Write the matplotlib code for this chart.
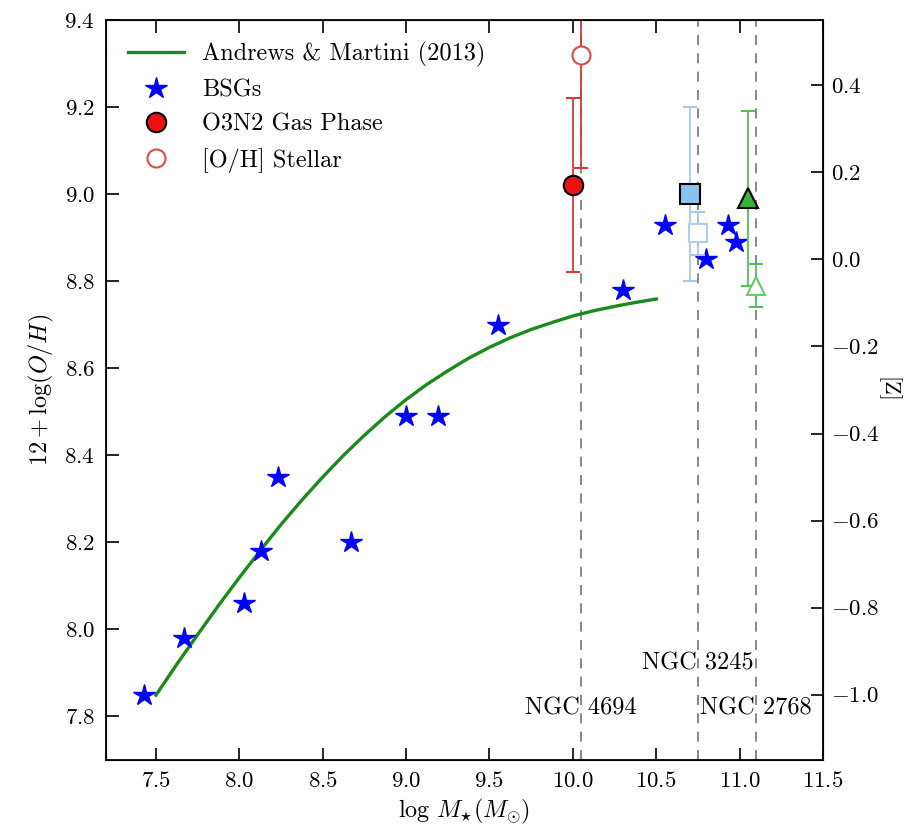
import numpy as np
import matplotlib
matplotlib.use('Agg')
import matplotlib.pyplot as plt

plt.rcParams['font.family'] = ['cmr10', 'DejaVu Serif']
plt.rcParams['mathtext.fontset'] = 'cm'
plt.rcParams['axes.formatter.use_mathtext'] = True
plt.rcParams['axes.unicode_minus'] = True

# BSG metallicities
bsg_mass = [7.43, 7.67, 8.03, 8.13, 8.23, 8.67, 9.00, 9.19, 9.55,
            10.30, 10.55, 10.80, 10.93, 10.98]
bsg_oh = [7.85, 7.98, 8.06, 8.18, 8.35, 8.20, 8.49, 8.49, 8.70,
          8.78, 8.93, 8.85, 8.93, 8.89]

# Andrews & Martini (2013) relation
am_mass = [7.5, 7.625, 7.75, 7.875, 8.0, 8.125, 8.25, 8.375, 8.5, 8.625,
           8.75, 8.875, 9.0, 9.125, 9.25, 9.375, 9.5, 9.625, 9.75, 9.875,
           10.0, 10.125, 10.25, 10.375, 10.5]
am_oh = [7.849, 7.920, 7.988, 8.055, 8.119, 8.181, 8.241, 8.297, 8.350, 8.400,
         8.446, 8.489, 8.528, 8.563, 8.594, 8.623, 8.648, 8.670, 8.689, 8.705,
         8.720, 8.732, 8.742, 8.751, 8.759]

# galaxies: gas phase (filled) and stellar (open)
gal_names = ['NGC 4694', 'NGC 3245', 'NGC 2768']
gal_mass = [10.05, 10.75, 11.1]
gas_mass = [10.0, 10.7, 11.05]
gas_oh = [9.02, 9.00, 8.99]
gas_err = [0.2, 0.2, 0.2]
star_oh = [9.32, 8.91, 8.79]
star_err = [0.26, 0.05, 0.05]

markers = ['o', 's', '^']
face_cols = ['#ee1111', '#88c4ee', '#33b833']
bar_cols = ['#d83838', '#a8c8e8', '#55c055']
open_cols = ['#e04848', '#b0ccf0', '#66cc66']
label_y = [7.818, 7.922, 7.818]

fig = plt.figure(figsize=(9.19, 8.25), dpi=100)
ax = fig.add_axes([0.1153, 0.0788, 0.7802, 0.897])

for m in gal_mass:
    ax.axvline(m, color='0.45', ls='--', lw=1.2, dashes=(6, 5), zorder=1)

ax.plot(am_mass, am_oh, color='#1a8a1a', lw=2.4, zorder=2,
        solid_joinstyle='round', label='Andrews & Martini (2013)')
ax.plot(bsg_mass, bsg_oh, ls='none', marker='*', ms=16, color='blue',
        mec='blue', zorder=3, label='BSGs')

for i in range(3):
    ax.errorbar(gas_mass[i], gas_oh[i], yerr=gas_err[i], fmt=markers[i],
                ms=14, mfc=face_cols[i], mec='black', mew=1.5,
                ecolor=bar_cols[i], elinewidth=1.3, capsize=5, capthick=1.3,
                zorder=4)
    ax.errorbar(gal_mass[i], star_oh[i], yerr=star_err[i], fmt=markers[i],
                ms=13, mfc='white', mec=open_cols[i], mew=1.5,
                ecolor=bar_cols[i], elinewidth=1.3, capsize=5, capthick=1.3,
                zorder=4)
    ax.text(gal_mass[i], label_y[i], gal_names[i], ha='center', va='center',
            fontsize=17.5, zorder=5)

# legend proxies
ax.plot([], [], ls='none', marker='o', ms=14, mfc=face_cols[0], mec='black',
        mew=1.5, label='O3N2 Gas Phase')
ax.plot([], [], ls='none', marker='o', ms=13, mfc='white', mec=open_cols[0],
        mew=1.5, label='[O/H] Stellar')

ax.set_xlim(7.2, 11.5)
ax.set_ylim(7.7, 9.4)
ax.set_xticks(np.arange(7.5, 11.51, 0.5))
ax.set_yticks(np.arange(7.8, 9.41, 0.2))
ax.tick_params(direction='in', length=9, width=1.2, labelsize=16.5,
               top=True, right=False, pad=8)
for s in ax.spines.values():
    s.set_linewidth(1.3)
ax.set_xlabel(r'$\log\,M_{\star}(M_{\odot})$', fontsize=17.5, labelpad=4)
ax.set_ylabel(r'$12 + \log(O/H)$', fontsize=17.5, labelpad=6)

leg = ax.legend(loc='upper left', frameon=False, numpoints=1, fontsize=17.5,
                handlelength=2.3, handletextpad=0.75)

ax2 = ax.twinx()
ax2.set_ylim(7.7 - 8.85, 9.4 - 8.85)
ax2.set_yticks(np.arange(-1.0, 0.41, 0.2))
ax2.tick_params(direction='in', length=9, width=1.2, labelsize=16.5, pad=6)
ax2.set_ylabel('[Z]', fontsize=16, rotation=270, labelpad=14)

fig.savefig('out.png', dpi=100)
